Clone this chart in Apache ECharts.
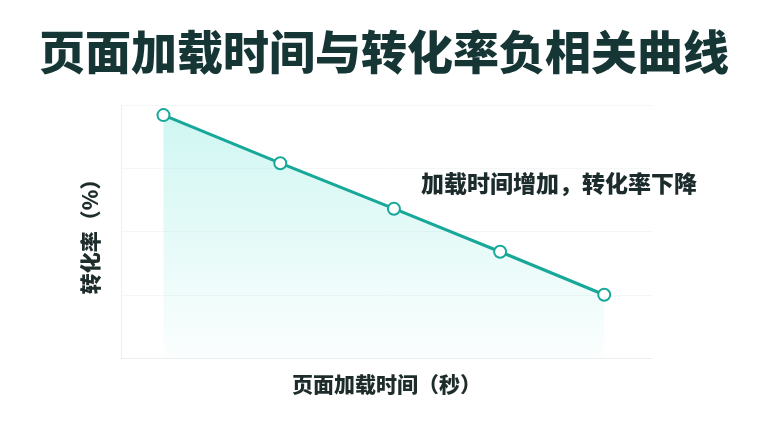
<!DOCTYPE html>
<html lang="zh">
<head>
    <meta charset="UTF-8">
    <title>页面加载时间与转化率负相关曲线</title>
    <style>
        html, body { margin: 0; padding: 0; background: #ffffff; }
    </style>
    <script src="https://cdn.jsdelivr.net/npm/echarts@6/dist/echarts.min.js"></script>
</head>
<body>
<div id="main" style="width:768px;height:432px"></div>
<script>
    // values (no tick labels shown in the original)
    var loadTimes = [0.9, 2.0, 3.07, 4.07, 5.05];   // 秒
    var conversion = [9.6, 7.7, 5.9, 4.2, 2.5];     // %

    var titleText = '页面加载时间与转化率负相关曲线';
    var xName = '页面加载时间（秒）';
    var yName = '转化率（%）';
    var note = '加载时间增加，转化率下降';

    var points = loadTimes.map(function (t, i) { return [t, conversion[i]]; });

    var myChart = echarts.init(document.getElementById('main'));
    var font = '"Noto Sans CJK SC", "Noto Sans", sans-serif';

    var option = {
        backgroundColor: '#ffffff',
        animation: false,
        title: {
            text: titleText,
            left: 'center',
            top: 24,
            textStyle: { fontSize: 46, fontWeight: 900, color: '#163636', fontFamily: font }
        },
        grid: { left: 121, right: 116, top: 105, bottom: 74 },
        xAxis: {
            type: 'value',
            min: 0.5,
            max: 5.5,
            name: xName,
            nameLocation: 'middle',
            nameGap: 16,
            nameTextStyle: { fontSize: 21, fontWeight: 900, color: '#1e2c2c', fontFamily: font, verticalAlign: 'top' },
            axisLine: { lineStyle: { color: '#eceff0' } },
            axisTick: { show: false },
            axisLabel: { show: false },
            splitLine: { show: false }
        },
        yAxis: {
            type: 'value',
            min: 0,
            max: 10,
            interval: 2.5,
            name: yName,
            nameLocation: 'middle',
            nameGap: 20,
            nameRotate: 90,
            nameTextStyle: { fontSize: 21, fontWeight: 900, color: '#1e2c2c', fontFamily: font },
            axisLine: { show: true, lineStyle: { color: '#eceff0' } },
            axisTick: { show: false },
            axisLabel: { show: false },
            splitLine: { lineStyle: { color: '#f5f7f7' } }
        },
        graphic: [{
            type: 'text',
            left: 421,
            top: 172,
            style: {
                text: note,
                fontSize: 23,
                fontWeight: 900,
                fill: '#1c2b2b',
                fontFamily: font
            }
        }],
        series: [{
            type: 'line',
            data: points,
            symbol: 'emptyCircle',
            symbolSize: 12,
            lineStyle: { color: '#17a899', width: 3 },
            itemStyle: { color: '#17a899', borderWidth: 2, borderColor: '#17a899' },
            areaStyle: {
                color: new echarts.graphic.LinearGradient(0, 0, 0, 1, [
                    { offset: 0, color: 'rgba(105,228,214,0.45)' },
                    { offset: 1, color: 'rgba(105,228,214,0.04)' }
                ])
            }
        }]
    };
    myChart.setOption(option);
</script>
</body>
</html>
